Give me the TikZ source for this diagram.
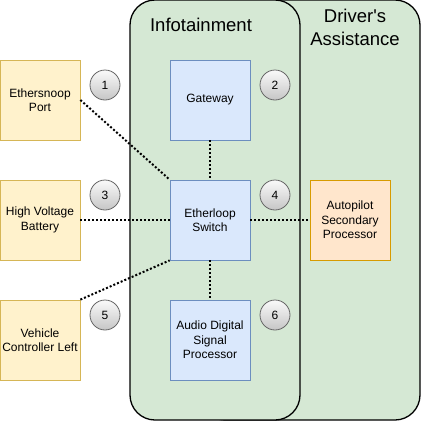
\documentclass[tikz,border=0pt]{standalone}
\usepackage{fontspec}
\setmainfont{Liberation Sans}
\definecolor{grpfill}{HTML}{D5E8D4}
\definecolor{bluefill}{HTML}{DAE8FC}
\definecolor{blueline}{HTML}{6C8EBF}
\definecolor{yelfill}{HTML}{FFF2CC}
\definecolor{yelline}{HTML}{D6B656}
\definecolor{orfill}{HTML}{FFE6CC}
\definecolor{orline}{HTML}{D79B00}
\definecolor{numline}{HTML}{666666}
\begin{document}
\begin{tikzpicture}[x=1pt,y=-1pt,
    group/.style={draw=black,line width=1.3pt,fill=grpfill,rounded corners=25pt},
    ecu/.style={draw,line width=0.8pt,minimum width=80pt,minimum height=80pt,inner sep=0pt,
      align=center,font=\fontsize{12}{14.4}\selectfont},
    bluebox/.style={ecu,fill=bluefill,draw=blueline},
    yelbox/.style={ecu,fill=yelfill,draw=yelline},
    orbox/.style={ecu,fill=orfill,draw=orline},
    num/.style={circle,draw=numline,line width=0.8pt,minimum size=30pt,inner sep=0pt,
      top color=gray!4,bottom color=gray!45,font=\fontsize{12}{14}\selectfont},
    link/.style={line width=2pt,dash pattern=on 2pt off 2pt}]
        \useasboundingbox (0,0) rectangle (421,421);

        % groups
        \draw[group] (200,0) rectangle (420,420);
        \draw[group] (130,0) rectangle (300,420);
        \node (info) at (201,25) [font=\fontsize{18.5}{22}\selectfont] {Infotainment};
        \node (das) at (355,27) [align=center,font=\fontsize{18.5}{23}\selectfont] {Driver\textquotesingle s\\Assistance};

        % ecus
        \node (port) at (40,100) [yelbox] {Ethersnoop\\Port};
        \node (hvb) at (40,220) [yelbox] {High Voltage\\Battery};
        \node (vcl) at (40,340) [yelbox] {Vehicle\\Controller Left};
        \node (gate) at (210,100) [bluebox] {Gateway};
        \node (switch) at (210,220) [bluebox] {Etherloop\\Switch};
        \node (dsp) at (210,340) [bluebox] {Audio Digital\\Signal\\Processor};
        \node (ap) at (350,220) [orbox] {Autopilot\\Secondary\\Processor};

        % links
        \draw[link] (port.east) -- (switch.north west);
        \draw[link] (hvb.east) -- (switch.west);
        \draw[link] (vcl.north east) -- (switch.south west);
        \draw[link] (gate.south) -- (switch.north);
        \draw[link] (switch.south) -- (dsp.north);
        \draw[link] (switch.east) -- (ap.west);

        % numbers
        \node (n1) at (105,85) [num] {1};
        \node (n2) at (275,85) [num] {2};
        \node (n3) at (105,195) [num] {3};
        \node (n4) at (275,195) [num] {4};
        \node (n5) at (105,315) [num] {5};
        \node (n6) at (275,315) [num] {6};
\end{tikzpicture}
\end{document}
